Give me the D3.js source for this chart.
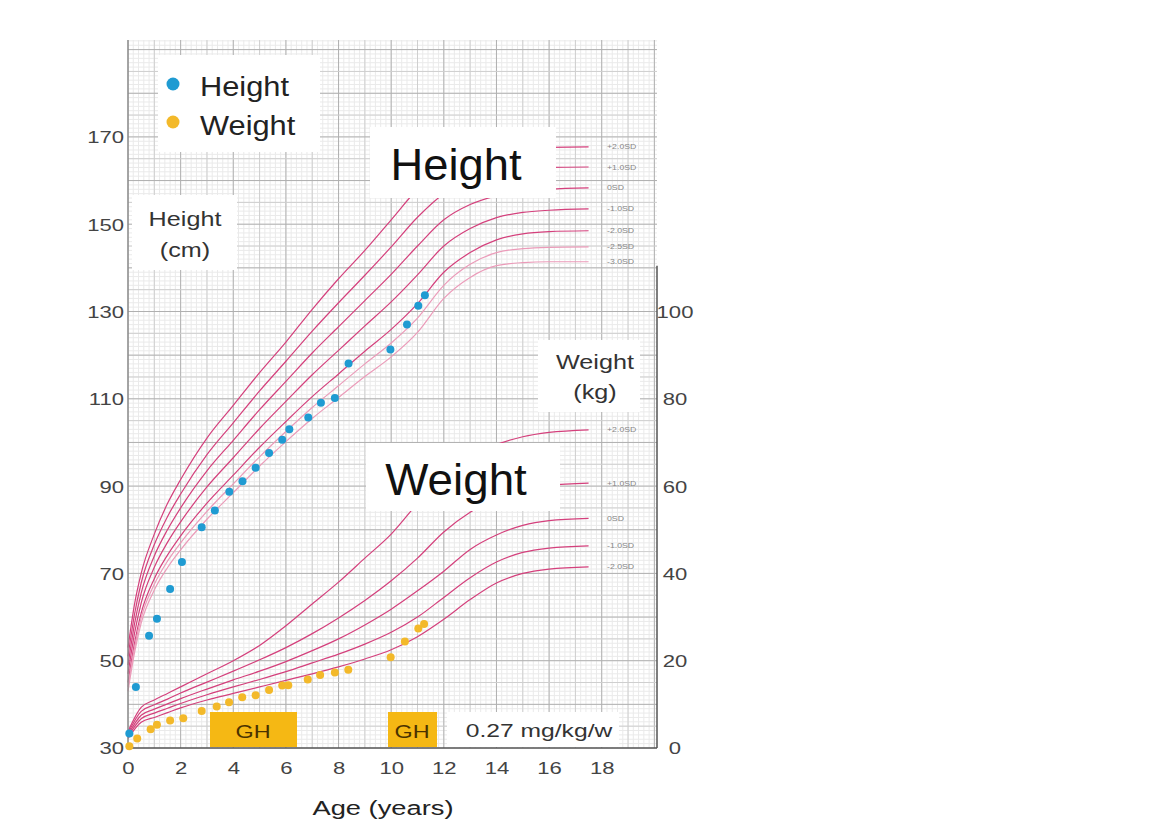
<!DOCTYPE html>
<html lang="en">
<head>
<meta charset="UTF-8">
<title>Growth chart</title>
<script src="https://d3js.org/d3.v7.min.js"></script>
<style>
  body { margin: 0; background: #fff; font-family: Arial, "Liberation Sans", sans-serif; }
  svg text { font-family: Arial, "Liberation Sans", sans-serif; }
</style>
</head>
<body>
<div id="chart"></div>
<script>
// ages for reference curves
const heightAges = [0, 0.25, 0.5, 1, 1.5, 2, 3, 4, 5, 6, 7, 8, 9, 10, 11, 12, 13, 14, 15, 16, 17.5];
const heightP2  = [53, 63, 70, 79, 86, 91.5, 101, 108.5, 116, 123, 130.5, 137.5, 144, 151, 158, 163, 165.5, 167, 167.5, 167.6, 167.7];
const heightP1  = [51, 60.7, 67.8, 76.6, 83, 88.2, 97.2, 104.5, 111.8, 118.6, 125.5, 132, 138.3, 144.8, 151.6, 157, 160, 161.7, 162.5, 163, 163.1];
const height0   = [49, 58.5, 65.5, 74, 80, 85, 93.5, 100.5, 107.5, 114, 120.5, 126.5, 132.5, 138.5, 145, 151, 154.5, 156.5, 157.5, 158, 158.3];
const heightM1  = [47, 56.3, 63.2, 71.4, 77.1, 81.8, 89.8, 96.5, 103.2, 109.4, 115.5, 121.1, 126.7, 132.2, 138.4, 145, 149, 151.5, 152.7, 153.2, 153.5];
const heightM2  = [45, 54.1, 60.9, 68.8, 74.2, 78.6, 86.1, 92.5, 98.9, 104.8, 110.5, 115.7, 120.9, 125.9, 131.8, 139, 143.5, 146.4, 147.8, 148.3, 148.5];
const heightM25 = [44, 53, 59.8, 67.5, 72.8, 77, 84.2, 90.5, 96.7, 102.5, 108, 113, 118, 122.8, 128.5, 136, 140.8, 143.5, 144.4, 144.7, 144.8];
const heightM3  = [43, 51.9, 58.6, 66.2, 71.3, 75.4, 82.4, 88.5, 94.6, 100.2, 105.5, 110.3, 115.1, 119.6, 125.2, 133, 137.8, 140.5, 141.2, 141.4, 141.4];
const heightSdLabels = ["+2.0SD", "+1.0SD", "0SD", "-1.0SD", "-2.0SD", "-2.5SD", "-3.0SD"];

const weightAges = [0, 0.5, 1, 1.5, 2, 3, 4, 5, 6, 7, 8, 9, 10, 11, 12, 13, 14, 15, 16, 17.5];
const weightP2 = [3.8, 9.3, 11.0, 12.5, 14.0, 17.0, 20.0, 23.5, 28.0, 33.0, 38.0, 43.5, 49.0, 56.0, 62.0, 66.5, 69.5, 71.3, 72.3, 72.9];
const weightP1 = [3.4, 8.4, 9.9, 11.2, 12.6, 15.1, 17.6, 20.2, 23.0, 26.2, 29.8, 33.8, 38.3, 43.5, 49.5, 54.0, 57.2, 59.2, 60.2, 60.7];
const weight0  = [3.0, 7.5, 8.9, 10.1, 11.3, 13.5, 15.6, 17.6, 19.8, 22.3, 25.0, 28.2, 31.8, 36.0, 40.5, 45.5, 48.8, 51.0, 52.1, 52.6];
const weightM1 = [2.6, 6.7, 8.0, 9.1, 10.2, 12.2, 14.0, 15.7, 17.5, 19.5, 21.5, 23.8, 26.5, 30.0, 34.5, 39.0, 42.6, 44.8, 45.8, 46.3];
const weightM2 = [2.2, 5.9, 7.0, 8.1, 9.2, 11.0, 12.5, 14.0, 15.5, 17.0, 18.6, 20.4, 22.5, 25.5, 29.5, 34.0, 37.8, 40.0, 41.0, 41.5];
const weightSdLabels = ["+2.0SD", "+1.0SD", "0SD", "-1.0SD", "-2.0SD"];

// patient measurements
const heightPtAges = [0.05, 0.3, 0.8, 1.1, 1.6, 2.05, 2.8, 3.3, 3.85, 4.35, 4.85, 5.36, 5.86, 6.13, 6.85, 7.33, 7.86, 8.38, 9.97, 10.6, 11.03, 11.28];
const heightPts    = [33.3, 44, 55.7, 59.6, 66.4, 72.6, 80.6, 84.4, 88.7, 91.1, 94.2, 97.6, 100.6, 103.0, 105.7, 109.1, 110.2, 118.1, 121.3, 127.0, 131.3, 133.7];
const weightPtAges = [0.05, 0.35, 0.86, 1.1, 1.6, 2.1, 2.8, 3.37, 3.84, 4.34, 4.85, 5.36, 5.86, 6.09, 6.83, 7.3, 7.86, 8.37, 9.98, 10.52, 11.03, 11.25];
const weightPts    = [0.4, 2.2, 4.3, 5.3, 6.3, 6.8, 8.5, 9.5, 10.5, 11.6, 12.1, 13.3, 14.3, 14.4, 15.7, 16.7, 17.3, 17.9, 20.8, 24.4, 27.4, 28.4];

const heightTicks = [30, 50, 70, 90, 110, 130, 150, 170];
const weightTicks = [0, 20, 40, 60, 80, 100];
const ageTicks = [0, 2, 4, 6, 8, 10, 12, 14, 16, 18];

const W = 1176, H = 823;
const svg = d3.select("#chart").append("svg").attr("width", W).attr("height", H);

const x = d3.scaleLinear().domain([0, 20.1]).range([128, 657]);
const yH = d3.scaleLinear().domain([30, 192.2]).range([748, 40]);
const yW = d3.scaleLinear().domain([0, 162.2]).range([748, 40]);

// text helper: the source lettering is a bit wider than Arial, so stretch horizontally
function txt(s, px, py, size, sx, anchor, fill) {
  return svg.append("text").attr("transform", `translate(${px},${py}) scale(${sx},1)`)
    .attr("text-anchor", anchor || "start").attr("font-size", size).attr("fill", fill || "#333").text(s);
}

// grid
const grid = svg.append("g");
function vline(a, c, w) {
  grid.append("line").attr("x1", x(a)).attr("x2", x(a)).attr("y1", yH(192.2)).attr("y2", yH(30))
    .attr("stroke", c).attr("stroke-width", w);
}
function hline(h, c, w) {
  grid.append("line").attr("x1", x(0)).attr("x2", x(20.1)).attr("y1", yH(h)).attr("y2", yH(h))
    .attr("stroke", c).attr("stroke-width", w);
}
d3.range(0, 101).map(i => i * 0.2).filter(a => a <= 20.1).forEach(a => vline(a, "#eaeaea", 1));
d3.range(30, 193).forEach(h => hline(h, "#eaeaea", 1));
d3.range(1, 21).forEach(a => vline(a, a % 2 === 0 ? "#b0b0b0" : "#cfcfcf", 1));
d3.range(35, 193, 5).forEach(h => hline(h, h % 10 === 0 ? "#b0b0b0" : "#cfcfcf", 1));

// reference curves
const hLine = d3.line().x(d => x(d[0])).y(d => yH(d[1])).curve(d3.curveMonotoneX);
const wLine = d3.line().x(d => x(d[0])).y(d => yW(d[1])).curve(d3.curveMonotoneX);
const heightSeries = [heightP2, heightP1, height0, heightM1, heightM2, heightM25, heightM3];
const weightSeries = [weightP2, weightP1, weight0, weightM1, weightM2];
const pink = "#d4407c";

heightSeries.forEach((s, i) => {
  svg.append("path").datum(heightAges.map((a, j) => [a, s[j]])).attr("d", hLine)
    .attr("fill", "none").attr("stroke", i >= 5 ? "#eb9bb9" : pink).attr("stroke-width", 1.2);
  txt(heightSdLabels[i], 607, yH(s[s.length - 1]) + 2.5, 7, 1.25, "start", "#888");
});
weightSeries.forEach((s, i) => {
  svg.append("path").datum(weightAges.map((a, j) => [a, s[j]])).attr("d", wLine)
    .attr("fill", "none").attr("stroke", pink).attr("stroke-width", 1.2);
  txt(weightSdLabels[i], 607, yW(s[s.length - 1]) + 2.5, 7, 1.25, "start", "#888");
});

// axes lines
svg.append("line").attr("x1", x(0)).attr("x2", x(0)).attr("y1", yH(192.2)).attr("y2", yH(30))
  .attr("stroke", "#888").attr("stroke-width", 1.5);
svg.append("line").attr("x1", x(20.1)).attr("x2", x(20.1)).attr("y1", yW(110.5)).attr("y2", yW(0))
  .attr("stroke", "#555").attr("stroke-width", 1.5);
svg.append("line").attr("x1", x(0)).attr("x2", x(20.1)).attr("y1", yH(30)).attr("y2", yH(30))
  .attr("stroke", "#555").attr("stroke-width", 1.5);

// white boxes hiding the curves
function box(x0, y0, w, h, fill) {
  svg.append("rect").attr("x", x0).attr("y", y0).attr("width", w).attr("height", h).attr("fill", fill || "#fff");
}
box(158, 55, 162, 97);
box(132, 195, 105, 75);
box(370, 127, 186, 71);
box(538, 340, 102, 72);
box(366, 443, 194, 68);
box(447, 712, 172, 35);
box(210, 712, 87, 35, "#f5b814");
box(388, 712, 49, 35, "#f5b814");

// data points
svg.append("g").selectAll("circle").data(weightPtAges.map((a, i) => [a, weightPts[i]])).join("circle")
  .attr("cx", d => x(d[0])).attr("cy", d => yW(d[1])).attr("r", 4).attr("fill", "#f3b92a");
svg.append("g").selectAll("circle").data(heightPtAges.map((a, i) => [a, heightPts[i]])).join("circle")
  .attr("cx", d => x(d[0])).attr("cy", d => yH(d[1])).attr("r", 4).attr("fill", "#1f9bd2");

// axes labels
const left = svg.append("g").attr("transform", `translate(${x(0) - 4},0)`)
  .call(d3.axisLeft(yH).tickValues(heightTicks).tickSize(0).tickPadding(0));
left.select(".domain").remove();
left.selectAll("text").attr("x", 0).attr("font-size", 17).attr("fill", "#444").attr("dy", "0.35em")
  .attr("transform", "scale(1.3,1)");

const right = svg.append("g").attr("transform", `translate(${x(20.1) + 18},0)`)
  .call(d3.axisRight(yW).tickValues(weightTicks).tickSize(0).tickPadding(0));
right.select(".domain").remove();
right.selectAll("text").attr("x", 0).attr("font-size", 17).attr("fill", "#444").attr("text-anchor", "middle")
  .attr("dy", "0.35em").attr("transform", "scale(1.3,1)");

const bottom = svg.append("g").attr("transform", `translate(0,${yH(30) + 12})`)
  .call(d3.axisBottom(x).tickValues(ageTicks).tickSize(0).tickPadding(0));
bottom.select(".domain").remove();
bottom.selectAll("text").attr("font-size", 17).attr("fill", "#444").attr("dy", "0.8em")
  .attr("transform", "scale(1.3,1)");

txt("Age (years)", 383, 815, 21, 1.3, "middle", "#222");

// legend
svg.append("circle").attr("cx", 173).attr("cy", 84).attr("r", 6.5).attr("fill", "#1f9bd2");
svg.append("circle").attr("cx", 173).attr("cy", 122).attr("r", 6.5).attr("fill", "#f3b92a");
txt("Height", 200, 96, 28, 1.1, "start", "#222");
txt("Weight", 200, 135, 28, 1.1, "start", "#222");

// labels
txt("Height", 185, 226, 20, 1.26, "middle");
txt("(cm)", 185, 257, 20, 1.26, "middle");
txt("Weight", 595, 369, 20, 1.26, "middle");
txt("(kg)", 595, 399, 20, 1.26, "middle");
txt("Height", 456, 180, 44, 1.03, "middle", "#111");
txt("Weight", 456, 495, 44, 1.04, "middle", "#111");
txt("GH", 253, 738, 19, 1.23, "middle", "#4a3200");
txt("GH", 412, 738, 19, 1.23, "middle", "#4a3200");
txt("0.27 mg/kg/w", 539, 737, 18, 1.37, "middle", "#333");
</script>
</body>
</html>
